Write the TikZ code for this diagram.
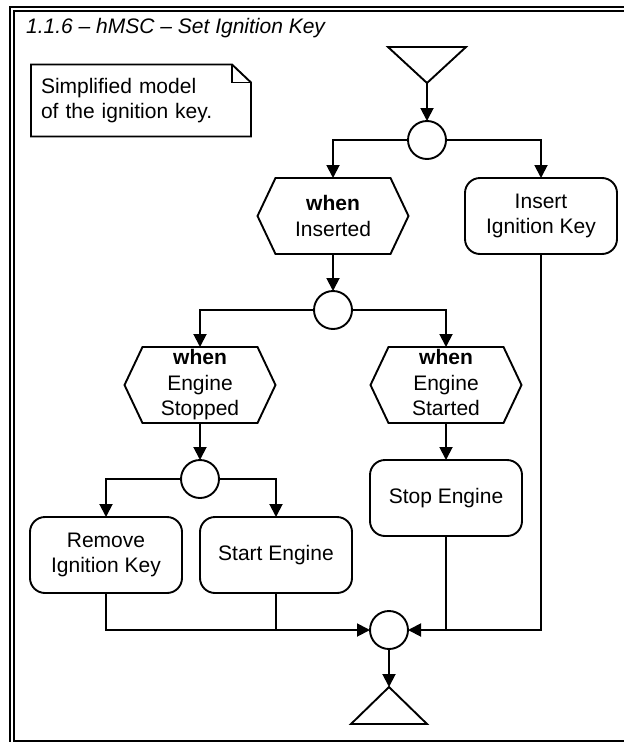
\documentclass[tikz,border=0pt]{standalone}
\usepackage{fontspec}
\setmainfont{Liberation Sans}
\usetikzlibrary{arrows.meta}
\newcommand\hexline[1]{\draw[shapeline] ([xshift=18pt]#1.north west) -- ([xshift=-18pt]#1.north east) -- (#1.east) -- ([xshift=-18pt]#1.south east) -- ([xshift=18pt]#1.south west) -- (#1.west) -- cycle;}
\begin{document}
\begin{tikzpicture}[x=1pt,y=-1pt,
  shapeline/.style={line width=1.9pt, line join=miter},
  conn/.style={line width=1.9pt},
  arr/.style={line width=1.9pt, -{Triangle[length=13pt,width=13pt]}},
  txt/.style={font=\fontsize{21}{25.5}\selectfont, align=center},
  hexbox/.style={txt, draw=none, minimum width=151pt, minimum height=76pt, inner sep=0pt, outer sep=0pt},
  roundbox/.style={txt, draw, line width=1.9pt, rounded corners=15pt, minimum width=152pt, minimum height=76pt, inner sep=0pt, outer sep=0pt},
  junction/.style={draw, circle, line width=1.9pt, minimum size=38pt, inner sep=0pt, outer sep=0pt},
  tribox/.style={draw=none, inner sep=0pt, outer sep=0pt}
]
\useasboundingbox (0,0) rectangle (624,742);
\clip (0,0) rectangle (624,742);
% frame
\draw[line width=2pt] (9.5,7) rectangle (700,760);
\draw[line width=2pt] (13.8,11) rectangle (660,741);
% title
\node[anchor=base west, inner sep=0pt, font=\fontsize{21}{25}\selectfont\itshape] (title) at (26,33) {1.1.6 -- hMSC -- Set Ignition Key};
% note
\node[txt, align=left, minimum width=220pt, minimum height=72pt, text width=200pt, inner xsep=10pt, inner ysep=0pt, outer sep=0pt,
  font=\fontsize{21}{25}\selectfont] (note) at (141,100.5) {Simplified model\\of the ignition key.};
\draw[shapeline] (note.north west) -- ([xshift=-19pt]note.north east) -- ([yshift=-18pt]note.north east) -- (note.south east) -- (note.south west) -- cycle;
\draw[shapeline] ([xshift=-19pt]note.north east) -- ([xshift=-19pt,yshift=-18pt]note.north east) -- ([yshift=-18pt]note.north east);
% start triangle
\node[tribox, minimum width=78pt, minimum height=36pt] (tstart) at (427,65) {};
\draw[shapeline] (tstart.north west) -- (tstart.north east) -- (tstart.south) -- cycle;
% nodes
\node[junction] (c1) at (427,140) {};
\node[hexbox] (h1) at (333,216) {\textbf{when}\\Inserted};
\hexline{h1}
\node[roundbox] (b1) at (541,216) {Insert\\Ignition Key};
\node[junction] (c2) at (333,310) {};
\node[hexbox] (h2) at (200,385) {\textbf{when}\\Engine\\Stopped};
\hexline{h2}
\node[hexbox] (h3) at (446,385) {\textbf{when}\\Engine\\Started\vphantom{p}};
\hexline{h3}
\node[junction] (c3) at (200,479) {};
\node[roundbox] (b2) at (106,555) {Remove\\Ignition Key};
\node[roundbox] (b3) at (276,555) {Start Engine};
\node[roundbox] (b4) at (446,498) {Stop Engine};
\node[junction] (c4) at (389,630) {};
\node[tribox, minimum width=76pt, minimum height=37pt] (tend) at (389,705.5) {};
\draw[shapeline] (tend.north) -- (tend.south east) -- (tend.south west) -- cycle;
% connectors
\draw[arr] (tstart.south) -- (c1.north);
\draw[arr] (c1.west) -| (h1.north);
\draw[arr] (c1.east) -| (b1.north);
\draw[arr] (h1.south) -- (c2.north);
\draw[arr] (c2.west) -| (h2.north);
\draw[arr] (c2.east) -| (h3.north);
\draw[arr] (h2.south) -- (c3.north);
\draw[arr] (c3.west) -| (b2.north);
\draw[arr] (c3.east) -| (b3.north);
\draw[arr] (h3.south) -- (b4.north);
\draw[arr] (b2.south) |- (c4.west);
\draw[conn] (b3.south) -- (b3.south |- c4.west);
\draw[arr] (b1.south) |- (c4.east);
\draw[conn] (b4.south) -- (b4.south |- c4.east);
\draw[arr] (c4.south) -- (tend.north);
\end{tikzpicture}
\end{document}
